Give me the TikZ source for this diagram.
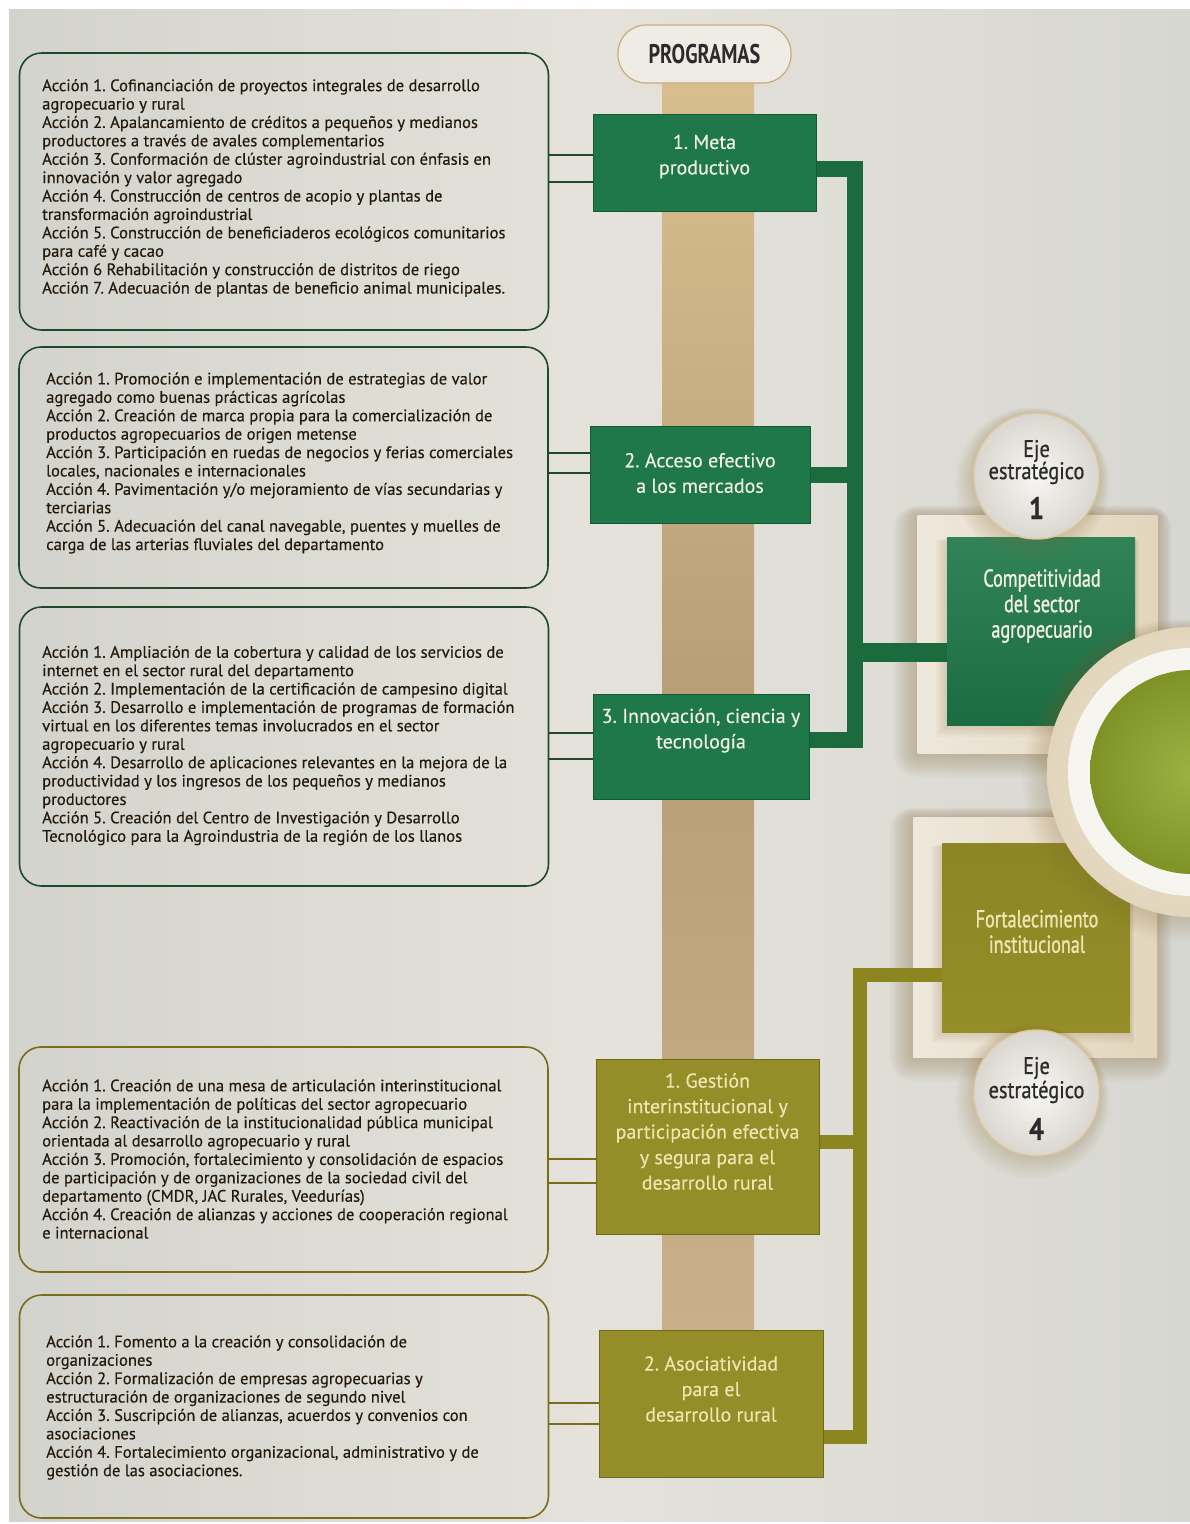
\documentclass[tikz,border=0pt]{standalone}
\usepackage{fontspec}
\setmainfont{PT Sans}
\newfontfamily\actionfont[FakeBold=0.35]{PT Sans}
\newfontfamily\progfont[FakeBold=0.3]{PT Sans}
\newfontfamily\narrowfont[FakeStretch=0.75]{PT Sans}
\newfontfamily\axisfont[FakeStretch=0.74, FakeBold=1.1]{PT Sans}
\newfontfamily\ejefont[FakeStretch=0.85, FakeBold=0.8]{PT Sans}
\usetikzlibrary{calc}

\definecolor{bgL}{HTML}{D3D3CD}
\definecolor{bgM}{HTML}{E4E2DA}
\definecolor{bgR}{HTML}{D7D7D1}
\definecolor{tanTop}{HTML}{D8BE8F}
\definecolor{tanMid}{HTML}{B89E76}
\definecolor{tanBot}{HTML}{C9B08A}
\definecolor{inkbrown}{HTML}{241A0C}
\definecolor{edgegreen}{HTML}{1E4A2A}
\definecolor{edgeolive}{HTML}{7A6C1A}
\definecolor{boxgreen}{HTML}{1F7849}
\definecolor{boxgreenD}{HTML}{155A36}
\definecolor{bandgreen}{HTML}{1B6B3F}
\definecolor{boxolive}{HTML}{958D27}
\definecolor{boxoliveD}{HTML}{6F6A18}
\definecolor{bandolive}{HTML}{8C8621}
\definecolor{creamtext}{HTML}{F3F1E2}
\definecolor{olivetext}{HTML}{EEE6B0}
\definecolor{framecream}{HTML}{EEE8DC}
\definecolor{framebeige}{HTML}{E2D5BC}
\definecolor{shadowtone}{HTML}{8A6A3A}
\definecolor{pillfill}{HTML}{EFECE5}
\definecolor{pilledge}{HTML}{C9AB7A}
\definecolor{discfill}{HTML}{EDE9E1}
\definecolor{discedge}{HTML}{D9C595}
\definecolor{limegreen}{HTML}{93A82E}
\definecolor{limegreenD}{HTML}{7E9226}
\definecolor{darktext}{HTML}{2B2B2B}

\tikzset{
  actionbox/.style={draw, line width=1.6pt, rounded corners=22pt, minimum width=529pt, inner sep=0pt},
  actiontext/.style={anchor=west, align=left, inner sep=0pt, text=inkbrown,
    font=\actionfont\fontsize{16.6}{18.4}\selectfont},
  stub/.style={line width=1.3pt},
  progbox/.style={inner sep=0pt, line width=0.8pt},
  progtext/.style={align=center, inner sep=0pt, font=\progfont\fontsize{20}{25.5}\selectfont},
  gband/.style={draw=bandgreen, line width=16pt},
  oband/.style={draw=bandolive, line width=14pt},
  framebox/.style={inner sep=0pt, minimum width=240pt, left color=framecream, right color=framebeige},
  axisbox/.style={inner sep=0pt, minimum width=188pt, minimum height=188pt},
  axistext/.style={align=center, inner sep=0pt, font=\axisfont\fontsize{24.5}{25.5}\selectfont},
  disc/.style={circle, minimum size=126pt, inner sep=0pt, draw=discedge, line width=1.4pt,
    inner color=white!60!discfill, outer color=discfill!92!black},
  disctext/.style={inner sep=0pt, text=darktext, font=\ejefont\fontsize{24}{24}\selectfont},
  discnum/.style={inner sep=0pt, text=darktext, font=\ejefont\bfseries\fontsize{31}{31}\selectfont},
}

\begin{document}
\frenchspacing
\begin{tikzpicture}[x=1pt,y=-1pt]
\useasboundingbox (0,0) rectangle (1190,1524);

% paper and background
\fill[white] (0,0) rectangle (1190,1524);
\shade[left color=bgL, right color=bgR, middle color=bgM] (9,9) rectangle (1190,1521);

% central column behind the programmes
\shade[top color=tanTop, bottom color=tanBot, middle color=tanMid] (662,83) rectangle (754,1330);

% programmes heading
\node[draw=pilledge, fill=pillfill, line width=1.2pt, rounded corners=28pt,
      minimum width=173pt, minimum height=58pt, inner sep=0pt,
      font=\narrowfont\bfseries\fontsize{27}{27}\selectfont, text=darktext]
      (prog) at (704.5,54) {PROGRAMAS};

% action boxes
\node[actionbox, draw=edgegreen, minimum height=277pt] (a1) at (284,191.5) {};
\node[actionbox, draw=edgegreen, minimum height=241pt] (a2) at (283.5,467.5) {};
\node[actionbox, draw=edgegreen, minimum height=279pt] (a3) at (284,746.5) {};
\node[actionbox, draw=edgeolive, minimum height=225pt] (a4) at (283.5,1159.5) {};
\node[actionbox, draw=edgeolive, minimum height=223pt] (a5) at (284,1406.5) {};

\node[actiontext] (a1t) at (42,188) {Acción 1. Cofinanciación de proyectos integrales de desarrollo\\
agropecuario y rural\\
Acción 2. Apalancamiento de créditos a pequeños y medianos\\
productores a través de avales complementarios\\
Acción 3. Conformación de clúster agroindustrial con énfasis en\\
innovación y valor agregado\\
Acción 4. Construcción de centros de acopio y plantas de\\
transformación agroindustrial\\
Acción 5. Construcción de beneficiaderos ecológicos comunitarios\\
para café y cacao\\
Acción 6 Rehabilitación y construcción de distritos de riego\\
Acción 7. Adecuación de plantas de beneficio animal municipales.};

\node[actiontext] (a2t) at (46,463) {Acción 1. Promoción e implementación de estrategias de valor\\
agregado como buenas prácticas agrícolas\\
Acción 2. Creación de marca propia para la comercialización de\\
productos agropecuarios de origen metense\\
Acción 3. Participación en ruedas de negocios y ferias comerciales\\
locales, nacionales e internacionales\\
Acción 4. Pavimentación y/o mejoramiento de vías secundarias y\\
terciarias\\
Acción 5. Adecuación del canal navegable, puentes y muelles de\\
carga de las arterias fluviales del departamento};

\node[actiontext] (a3t) at (42,745.5) {Acción 1. Ampliación de la cobertura y calidad de los servicios de\\
internet en el sector rural del departamento\\
Acción 2. Implementación de la certificación de campesino digital\\
Acción 3. Desarrollo e implementación de programas de formación\\
virtual en los diferentes temas involucrados en el sector\\
agropecuario y rural\\
Acción 4. Desarrollo de aplicaciones relevantes en la mejora de la\\
productividad y los ingresos de los pequeños y medianos\\
productores\\
Acción 5. Creación del Centro de Investigación y Desarrollo\\
Tecnológico para la Agroindustria de la región de los llanos};

\node[actiontext] (a4t) at (42,1159) {Acción 1. Creación de una mesa de articulación interinstitucional\\
para la implementación de políticas del sector agropecuario\\
Acción 2. Reactivación de la institucionalidad pública municipal\\
orientada al desarrollo agropecuario y rural\\
Acción 3. Promoción, fortalecimiento y consolidación de espacios\\
de participación y de organizaciones de la sociedad civil del\\
departamento (CMDR, JAC Rurales, Veedurías)\\
Acción 4. Creación de alianzas y acciones de cooperación regional\\
e internacional};

\node[actiontext] (a5t) at (46,1407.5) {Acción 1. Fomento a la creación y consolidación de\\
organizaciones\\
Acción 2. Formalización de empresas agropecuarias y\\
estructuración de organizaciones de segundo nivel\\
Acción 3. Suscripción de alianzas, acuerdos y convenios con\\
asociaciones\\
Acción 4. Fortalecimiento organizacional, administrativo y de\\
gestión de las asociaciones.};

% frames of the two strategic axes, with their soft shadows
\coordinate (cfc) at (1037.5,634);
\coordinate (ffc) at (1035,937);
\foreach \k in {2,4,...,24} {
  \fill[shadowtone, opacity=0.03, rounded corners=\k pt]
    ($(cfc)+(-120-\k,-119-0.4*\k)$) rectangle ($(cfc)+(120+0.6*\k,119+\k)$);
  \fill[shadowtone, opacity=0.03, rounded corners=\k pt]
    ($(ffc)+(-122-\k,-120-0.4*\k)$) rectangle ($(ffc)+(122+0.6*\k,120+\k)$);
}
\node[framebox, minimum height=238pt] (compf) at (cfc) {};
\node[framebox, minimum width=244pt, minimum height=240pt] (fortf) at (ffc) {};
\foreach \k in {1,3,...,11} {
  \fill[shadowtone, opacity=0.04] ($(1041,631.5)+(-94-\k,-94+0.3*\k)$) rectangle ($(1041,631.5)+(94+0.4*\k,94+\k)$);
  \fill[shadowtone, opacity=0.04] ($(1036,937.5)+(-94-\k,-94+0.3*\k)$) rectangle ($(1036,937.5)+(94+0.4*\k,94+\k)$);
}

% junction points of the connector bands
\coordinate (gtop) at (855,168.5);
\coordinate (gmid) at (855,474.5);
\coordinate (gbot) at (855,740);
\coordinate (gaxis) at (855,652.5);
\coordinate (otop) at (860,975);
\coordinate (omid) at (860,1142);
\coordinate (obot) at (860,1437);

% centres of the strategic axis boxes
\path (1041,631.5) coordinate (compc) (1036,937.5) coordinate (fortc);

% connector bands
\draw[gband] (gbot -| 700,0) -- (gbot) -- (gtop) -- (gtop -| 700,0);
\draw[gband] (gmid -| 700,0) -- (gmid);
\draw[gband, line width=19pt] (gaxis) -- (gaxis -| compc);
\draw[oband] (obot -| 710,0) -- (obot) -- (otop) -- (otop -| fortc);
\draw[oband] (omid -| 710,0) -- (omid);

% strategic axis boxes
\node[axisbox, top color=boxgreen!92!white, bottom color=boxgreen!90!black] (comp) at (compc) {};
\node[axisbox, minimum height=189pt, top color=boxolive!95!black, bottom color=boxolive] (fort) at (fortc) {};
\node[axistext, text=creamtext] (compt) at (1042,606) {Competitividad\\del sector\\agropecuario};
\node[axistext, text=olivetext] (fortt) at (1037,931.5) {Fortalecimiento\\institucional};

% programme boxes
\node[progbox, fill=boxgreen, draw=boxgreenD, minimum width=223pt, minimum height=97pt] (m1) at (704.5,162.5) {};
\node[progbox, fill=boxgreen, draw=boxgreenD, minimum width=220pt, minimum height=97pt] (m2) at (700,474.5) {};
\node[progbox, fill=boxgreen, draw=boxgreenD, minimum width=216pt, minimum height=105pt] (m3) at (701,746.5) {};
\node[progbox, fill=boxolive, draw=boxoliveD, minimum width=223pt, minimum height=175pt] (g1) at (707.5,1146.5) {};
\node[progbox, fill=boxolive, draw=boxoliveD, minimum width=224pt, minimum height=147pt] (g2) at (711,1403.5) {};

\node[progtext, text=creamtext] (m1t) at (704.5,156.5) {1. Meta\\productivo};
\node[progtext, text=creamtext] (m2t) at (700,473) {2. Acceso efectivo\\a los mercados};
\node[progtext, text=creamtext] (m3t) at (701,730.5) {3. Innovación, ciencia y\\tecnología};
\node[progtext, text=olivetext] (g1t) at (707.5,1131.5) {1. Gestión\\interinstitucional y\\participación efectiva\\y segura para el\\desarrollo rural};
\node[progtext, text=olivetext] (g2t) at (711,1389) {2. Asociatividad\\para el\\desarrollo rural};

% stubs from the action boxes to their programmes
\coordinate (s1a) at (0,155);  \coordinate (s1b) at (0,182);
\coordinate (s2a) at (0,453);  \coordinate (s2b) at (0,473);
\coordinate (s3a) at (0,733);  \coordinate (s3b) at (0,759);
\coordinate (s4a) at (0,1159); \coordinate (s4b) at (0,1183);
\coordinate (s5a) at (0,1403); \coordinate (s5b) at (0,1424);
\draw[stub, draw=edgegreen] (a1.east |- s1a) -- (m1.west |- s1a);
\draw[stub, draw=edgegreen] (a1.east |- s1b) -- (m1.west |- s1b);
\draw[stub, draw=edgegreen] (a2.east |- s2a) -- (m2.west |- s2a);
\draw[stub, draw=edgegreen] (a2.east |- s2b) -- (m2.west |- s2b);
\draw[stub, draw=edgegreen] (a3.east |- s3a) -- (m3.west |- s3a);
\draw[stub, draw=edgegreen] (a3.east |- s3b) -- (m3.west |- s3b);
\draw[stub, draw=edgeolive] (a4.east |- s4a) -- (g1.west |- s4a);
\draw[stub, draw=edgeolive] (a4.east |- s4b) -- (g1.west |- s4b);
\draw[stub, draw=edgeolive] (a5.east |- s5a) -- (g2.west |- s5a);
\draw[stub, draw=edgeolive] (a5.east |- s5b) -- (g2.west |- s5b);

% large disc on the right edge
\coordinate (bigc) at (1192,772);
\foreach \k in {2,4,...,16} {
  \fill[shadowtone, opacity=0.03] ($(bigc)+(-0.5*\k,0.5*\k)$) circle ({145+\k});
}
\shade[inner color=framecream, outer color=framebeige] (bigc) circle (145);
\fill[white!55!framecream] (bigc) circle (124);
\shade[inner color=limegreen!90!white, outer color=limegreenD] (bigc) circle (102);

% strategic axis discs
\coordinate (e1c) at (1036.5,476);
\coordinate (e4c) at (1036.5,1093);
\foreach \k in {2,4,...,14} {
  \fill[shadowtone, opacity=0.035] ($(e1c)+(-0.3*\k,0.6*\k)$) circle ({63+\k});
  \fill[shadowtone, opacity=0.035] ($(e4c)+(-0.3*\k,0.6*\k)$) circle ({63+\k});
}
\node[disc] (eje1) at (e1c) {};
\node[disc] (eje4) at (e4c) {};
\node[disctext] (eje1a) at ($(e1c)+(0,-25)$) {Eje};
\node[disctext] (eje1b) at ($(e1c)+(0,-3)$) {estratégico};
\node[discnum] (eje1n) at ($(e1c)+(0,32)$) {1};
\node[disctext] (eje4a) at ($(e4c)+(0,-25)$) {Eje};
\node[disctext] (eje4b) at ($(e4c)+(0,-1)$) {estratégico};
\node[discnum] (eje4n) at ($(e4c)+(0,36)$) {4};
\end{tikzpicture}
\end{document}
